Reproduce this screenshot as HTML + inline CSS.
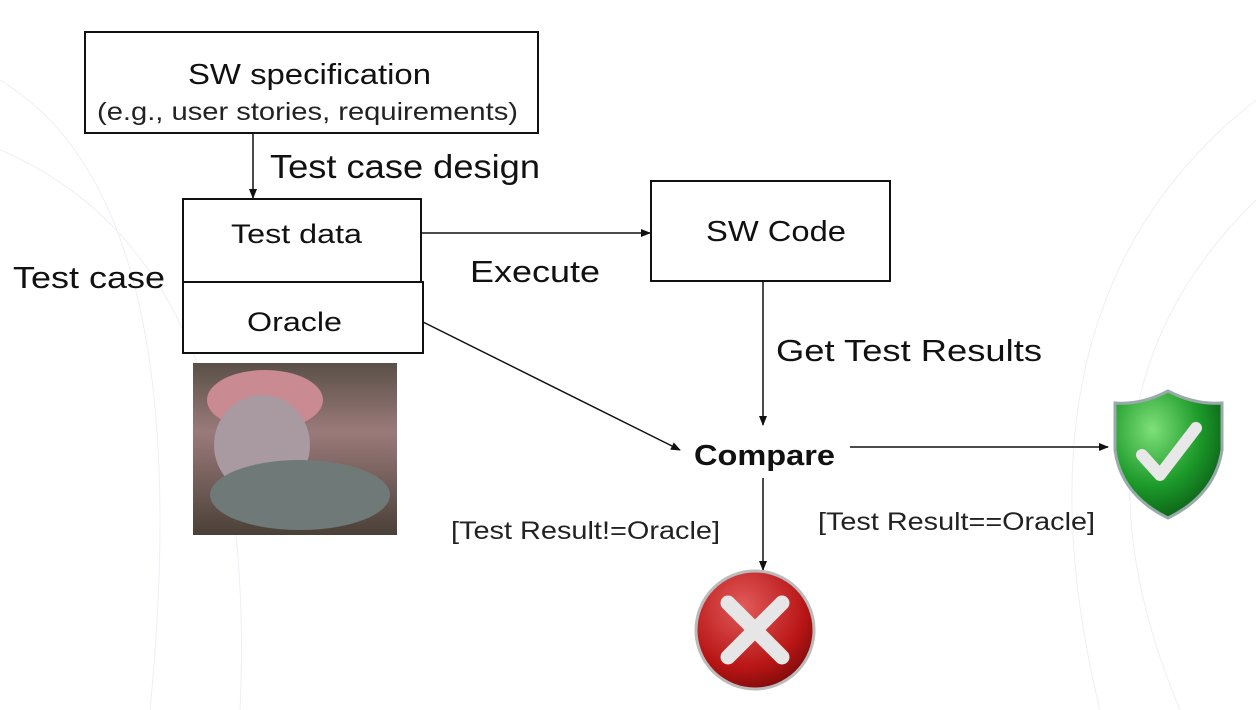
<!DOCTYPE html>
<html><head><style>
html,body{margin:0;padding:0;background:#fff;}
svg{display:block;font-family:"Liberation Sans",Arial,sans-serif;}
</style></head><body>
<svg width="1256" height="710" viewBox="0 0 1256 710">
<defs>
<marker id="a" markerWidth="10" markerHeight="10" refX="9" refY="5" orient="auto" markerUnits="userSpaceOnUse"><path d="M0,1 L10,5 L0,9 z" fill="#111"/></marker>
<radialGradient id="g" cx="35%" cy="30%" r="75%"><stop offset="0" stop-color="#7fe07a"/><stop offset="0.6" stop-color="#1c9a2a"/><stop offset="1" stop-color="#0b5d16"/></radialGradient>
<radialGradient id="r" cx="40%" cy="30%" r="75%"><stop offset="0" stop-color="#e25a5a"/><stop offset="0.7" stop-color="#b81515"/><stop offset="1" stop-color="#7a0a0a"/></radialGradient>
<linearGradient id="p" x1="0" y1="0" x2="0" y2="1"><stop offset="0" stop-color="#5a5048"/><stop offset="0.4" stop-color="#9a7a7a"/><stop offset="1" stop-color="#4a4038"/></linearGradient>
</defs>
<g stroke="#e8ecf2" stroke-width="1" fill="none" opacity="0.8">
<path d="M0,80 Q200,200 150,710"/><path d="M0,150 Q260,260 240,710"/><path d="M1256,100 Q1000,300 1100,710"/><path d="M1256,200 Q1050,400 1180,710"/>
</g>
<g lengthAdjust="spacingAndGlyphs">
<rect x="85" y="32" width="453" height="101" fill="#fff" stroke="#111" stroke-width="2"/>
<text x="188" y="84" font-size="29" textLength="243" lengthAdjust="spacingAndGlyphs" fill="#111">SW specification</text>
<text x="97" y="120" font-size="25" textLength="421" lengthAdjust="spacingAndGlyphs" fill="#222">(e.g., user stories, requirements)</text>
<line x1="253" y1="133" x2="253" y2="198" stroke="#111" stroke-width="1.5" marker-end="url(#a)"/>
<text x="270" y="178" font-size="33" textLength="270" lengthAdjust="spacingAndGlyphs" fill="#111">Test case design</text>
<rect x="183" y="199" width="238" height="83" fill="#fff" stroke="#111" stroke-width="2"/>
<text x="231" y="243" font-size="27" textLength="131" lengthAdjust="spacingAndGlyphs" fill="#111">Test data</text>
<rect x="183" y="282" width="240" height="71" fill="#fff" stroke="#111" stroke-width="2"/>
<text x="247" y="331" font-size="27" textLength="95" lengthAdjust="spacingAndGlyphs" fill="#111">Oracle</text>
<text x="13" y="288" font-size="31" textLength="152" lengthAdjust="spacingAndGlyphs" fill="#111">Test case</text>
<line x1="421" y1="233" x2="650" y2="233" stroke="#111" stroke-width="1.5" marker-end="url(#a)"/>
<text x="470" y="282" font-size="31" textLength="130" lengthAdjust="spacingAndGlyphs" fill="#111">Execute</text>
<rect x="651" y="181" width="239" height="100" fill="#fff" stroke="#111" stroke-width="2"/>
<text x="706" y="241" font-size="29" textLength="140" lengthAdjust="spacingAndGlyphs" fill="#111">SW Code</text>
<line x1="763" y1="281" x2="763" y2="425" stroke="#111" stroke-width="1.5" marker-end="url(#a)"/>
<text x="776" y="361" font-size="31" textLength="266" lengthAdjust="spacingAndGlyphs" fill="#111">Get Test Results</text>
<line x1="423" y1="322" x2="680" y2="450" stroke="#111" stroke-width="1.5" marker-end="url(#a)"/>
<text x="694" y="465" font-size="29" font-weight="bold" textLength="141" lengthAdjust="spacingAndGlyphs" fill="#111">Compare</text>
<line x1="850" y1="447" x2="1108" y2="447" stroke="#111" stroke-width="1.5" marker-end="url(#a)"/>
<text x="818" y="530" font-size="25" textLength="277" lengthAdjust="spacingAndGlyphs" fill="#222">[Test Result==Oracle]</text>
<text x="451" y="539" font-size="25" textLength="269" lengthAdjust="spacingAndGlyphs" fill="#222">[Test Result!=Oracle]</text>
</g>
<line x1="763" y1="478" x2="763" y2="570" stroke="#111" stroke-width="1.5" marker-end="url(#a)"/>
<path d="M1168,391 Q1195,405 1222,403 L1222,450 Q1215,495 1168,518 Q1121,495 1115,450 L1115,403 Q1142,405 1168,391 z" fill="url(#g)" stroke="#9aa" stroke-width="3"/>
<path d="M1142,455 L1160,475 L1196,428" fill="none" stroke="#e8e8e8" stroke-width="12" stroke-linecap="round" stroke-linejoin="round"/>
<circle cx="755" cy="630" r="59" fill="url(#r)" stroke="#bbb" stroke-width="3"/>
<path d="M728,603 L782,657 M782,603 L728,657" stroke="#e6e6e6" stroke-width="15" stroke-linecap="round"/>
<rect x="193" y="363" width="204" height="172" fill="url(#p)"/>
<ellipse cx="265" cy="400" rx="58" ry="30" fill="#c98a92"/>
<ellipse cx="262" cy="445" rx="48" ry="50" fill="#a89aa0"/>
<ellipse cx="300" cy="495" rx="90" ry="35" fill="#6f7a78"/>
</svg>
</body></html>
